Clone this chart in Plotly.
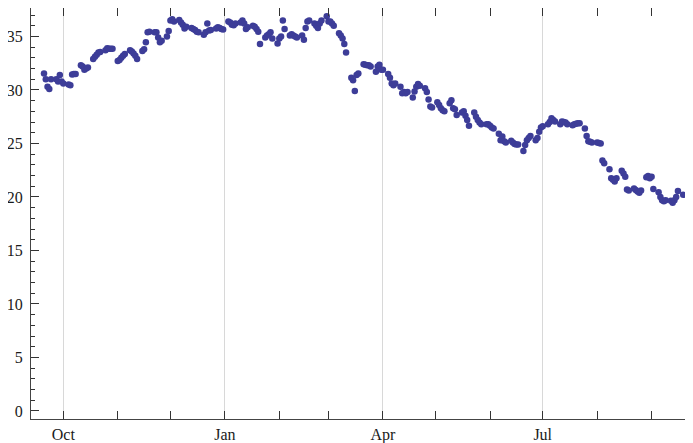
import pandas as pd
import plotly.graph_objects as go

# Daily (weekday) values, read week by week from the reference
start_date = "2021-09-20"
values = [
    31.55, 31.0, 30.3, 30.1, 31.0,            # Sep 20
    31.0, 30.8, 31.4, 30.8, 30.6,             # Sep 27
    30.5, 30.45, 31.45, 31.5, 31.5,           # Oct 4
    32.3, 32.2, 31.9, 32.0, 32.1,             # Oct 11
    32.9, 33.1, 33.3, 33.5, 33.55,            # Oct 18
    33.7, 33.9, 33.85, 33.85, 33.85,          # Oct 25
    32.7, 32.8, 33.0, 33.2, 33.35,            # Nov 1
    33.7, 33.6, 33.4, 33.2, 32.9,             # Nov 8
    33.65, 33.8, 34.45, 35.4, 35.45,          # Nov 15
    35.4, 35.4, 34.9, 34.45, 34.6,            # Nov 22
    35.0, 35.5, 36.5, 36.6, 36.4,             # Nov 29
    36.55, 36.3, 36.1, 35.75, 35.9,           # Dec 6
    35.8, 35.7, 35.6, 35.45, 35.4,            # Dec 13
    35.15, 35.4, 36.2, 35.55, 35.6,           # Dec 20
    35.75, 35.85, 35.8, 35.7, 35.65,          # Dec 27
    36.4, 36.3, 36.1, 36.05, 36.2,            # Jan 3
    36.3, 36.5, 36.2, 35.7, 35.85,            # Jan 10
    36.0, 35.9, 35.7, 35.45, 34.3,            # Jan 17
    34.9, 35.1, 35.2, 35.4, 34.8,             # Jan 24
    34.35, 34.8, 35.0, 36.5, 35.7,            # Jan 31
    35.08, 35.2, 35.1, 35.0, 34.9,            # Feb 7
    35.08, 34.7, 35.8, 36.4, 36.5,            # Feb 14
    36.2, 36.0, 35.8, 36.2, 36.5,             # Feb 21
    36.9, 36.4, 36.4, 36.2, 36.0,             # Feb 28
    35.3, 35.1, 34.8, 34.3, 33.5,             # Mar 7
    31.15, 30.9, 29.9, 31.4, 31.55,           # Mar 14
    32.4, 32.35, 32.3, 32.3, 32.2,            # Mar 21
    31.7, 32.2, 32.35, 31.9, 31.9,            # Mar 28
    31.5, 31.15, 30.6, 30.45, 30.6,           # Apr 4
    30.3, 29.7, 29.8, 29.7, 29.8,             # Apr 11
    29.3, 29.85, 30.3, 30.55, 30.4,           # Apr 18
    30.15, 29.8, 29.1, 28.45, 28.35,          # Apr 25
    28.85, 28.6, 28.3, 28.1, 28.0,            # May 2
    28.75, 29.05, 28.3, 28.2, 27.65,          # May 9
    27.9, 28.0, 27.6, 27.2, 26.65,            # May 16
    27.9, 27.5, 27.2, 26.95, 26.8,            # May 23
    26.8, 26.8, 26.65, 26.5, 26.4,            # May 30
    25.9, 25.3, 25.65, 25.2, 25.1,            # Jun 6
    25.25, 25.1, 24.95, 24.9, 24.9,           # Jun 13
    24.3, 24.85, 25.3, 25.5, 25.7,            # Jun 20
    25.3, 25.5, 26.1, 26.5, 26.6,             # Jun 27
    26.8, 27.0, 27.35, 27.2, 27.05,           # Jul 4
    26.8, 27.05, 27.0, 26.95, 26.8,           # Jul 11
    26.7, 26.8, 26.85, 26.9, 26.9,            # Jul 18
    26.4, 25.7, 25.2, 25.15, 25.1,            # Jul 25
    25.1, 25.05, 25.0, 23.4, 23.15,           # Aug 1
    22.6, 21.75, 21.6, 21.45, 21.75,          # Aug 8
    22.45, 22.2, 21.9, 20.7, 20.6,            # Aug 15
    20.8, 20.65, 20.5, 20.4, 20.6,            # Aug 22
    21.85, 21.95, 21.75, 21.9, 20.75,         # Aug 29
    20.45, 20.0, 19.7, 19.6, 19.7,            # Sep 5
    19.65, 19.45, 19.7, 20.0, 20.55,          # Sep 12
    20.2,                                     # Sep 19
]
dates = pd.bdate_range(start=start_date, periods=len(values))

font_family = "Liberation Serif, Times New Roman, serif"

fig = go.Figure(
    go.Scatter(
        x=dates,
        y=values,
        mode="markers",
        marker=dict(size=6.5, color="#3d3d98", line=dict(width=0)),
        showlegend=False,
    )
)

# The page adds an 8px body margin, so the figure is sized to fit inside it
fig.update_layout(
    width=685,
    height=435,
    margin=dict(l=23, r=0, t=0, b=24, autoexpand=False),
    paper_bgcolor="white",
    plot_bgcolor="white",
    font=dict(family=font_family, size=16, color="#1a1a1a"),
)

fig.update_xaxes(
    automargin=False,
    range=["2021-09-12 14:00", "2022-09-24 14:00"],
    tickmode="linear",
    tick0="2021-10-01",
    dtick="M3",
    tickformat="%b",
    ticks="inside",
    ticklen=8,
    tickwidth=1,
    tickcolor="#333333",
    ticklabelstandoff=1,
    showline=True,
    linecolor="#444444",
    linewidth=1,
    mirror="allticks",
    showgrid=True,
    gridcolor="#d8d8d8",
    gridwidth=1,
    zeroline=False,
    minor=dict(dtick="M1", tick0="2021-10-01", ticks="inside", ticklen=8,
               tickcolor="#333333", showgrid=False),
)

fig.update_yaxes(
    automargin=False,
    range=[-0.75, 37.66],
    tickmode="linear",
    tick0=0,
    dtick=5,
    ticks="inside",
    ticklen=8,
    tickwidth=1,
    tickcolor="#333333",
    ticklabelstandoff=4,
    showline=True,
    linecolor="#444444",
    linewidth=1,
    mirror="allticks",
    showgrid=False,
    zeroline=False,
    minor=dict(dtick=1, tick0=0, ticks="inside", ticklen=4,
               tickcolor="#333333", showgrid=False),
)

fig.write_html("out.html")
